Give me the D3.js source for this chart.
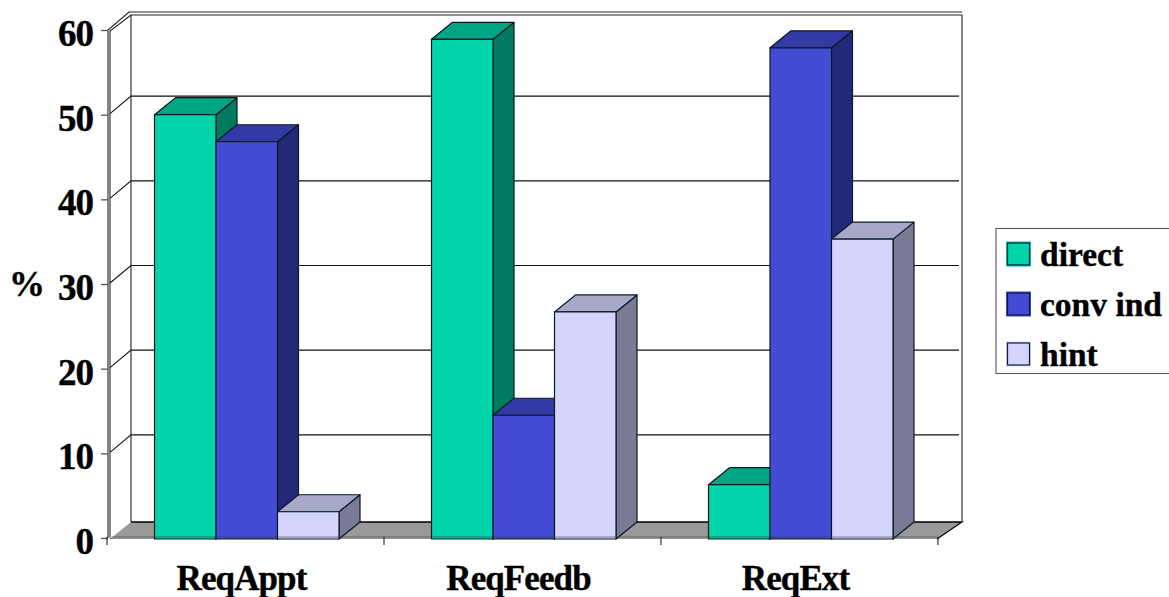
<!DOCTYPE html>
<html>
<head>
<meta charset="utf-8">
<script src="https://cdn.jsdelivr.net/npm/d3@7"></script>
<style>
html, body { margin: 0; padding: 0; background: #fff; }
svg { display: block; }
text { font-family: "Liberation Serif", serif; font-weight: bold; fill: #000; stroke: #000; stroke-width: 0.4; }
</style>
</head>
<body>
<div id="chart"></div>
<script>
var categories = ['ReqAppt', 'ReqFeedb', 'ReqExt'];
var series_names = ['direct', 'conv ind', 'hint'];
var direct_values = [50, 58.9, 6.3];
var conv_values = [46.8, 14.5, 57.9];
var hint_values = [3.1, 26.7, 35.3];
var y_ticks = [0, 10, 20, 30, 40, 50, 60];

var series_values = [direct_values, conv_values, hint_values];
var colors = [
  { front: '#00d4aa', top: '#00a583', side: '#007a60' },
  { front: '#444cd6', top: '#333aa5', side: '#222a78' },
  { front: '#d4d4fc', top: '#a8a8cb', side: '#7a7a96' }
];

var w = 1169, h = 597;
var dx = 21, dy = -17;           // depth of the 3d box

var svg = d3.select('#chart').append('svg')
  .attr('width', w)
  .attr('height', h);

var y = d3.scaleLinear().domain([0, 60]).range([538, 30]);
var x = d3.scaleBand().domain(d3.range(categories.length)).range([107, 938]);
var x_series = d3.scaleBand().domain(d3.range(series_names.length))
  .range([47.5, 232]);

var x_left = 110, x_right = 941;

// floor
svg.append('path')
  .attr('d', d3.line()([[x_left, y(0) + 1], [x_left + dx, y(0) + 1 + dy], [x_right + dx, y(0) + 1 + dy], [x_right - 4, y(0) + 1]]) + 'Z')
  .attr('fill', '#999')
  .attr('stroke', 'none');
svg.append('path')
  .attr('d', d3.line()([[x_left + dx, y(0) + 1 + dy], [x_right + dx, y(0) + 1 + dy], [x_right - 4, y(0) + 1]]))
  .attr('fill', 'none')
  .attr('stroke', '#000')
  .attr('stroke-width', 1.3);

// grid on back wall and left wall
y_ticks.forEach(function(t) {
  if (t == 0 || t == 60) return;
  svg.append('path')
    .attr('d', d3.line()([[x_left, y(t) - 1], [x_left + dx, y(t) + dy - 1.5], [x_right + dx - 3, y(t) + dy - 1.5]]))
    .attr('fill', 'none')
    .attr('stroke', '#111')
    .attr('stroke-width', 1.1);
});

// walls
var wall = svg.append('g').attr('fill', 'none').attr('stroke', '#222').attr('stroke-width', 1.1);
wall.append('path').attr('d', d3.line()([[x_left, y(0) + 1], [x_left, y(60) + 1], [x_left + dx, y(60) - 15], [x_right + dx, y(60) - 15], [x_right + dx, y(0) + 1 + dy]]));
wall.append('path').attr('d', d3.line()([[x_left + dx, y(60) - 15], [x_left + dx, y(0) + 1 + dy]]));
wall.append('path').attr('d', d3.line()([[x_left - 2, y(0) + 1], [x_left - 2, y(60)], [x_left + dx - 2, y(60) - 18], [x_right + dx, y(60) - 18]]));
wall.append('path')
  .attr('d', d3.line()([[x_left - 2, y(0) + 1], [x_left + dx - 2, y(0) + dy - 1]]))
  .attr('stroke', '#fff');

// bars
categories.forEach(function(cat, c) {
  series_names.forEach(function(name, s) {
    var v = series_values[s][c];
    var col = colors[s];
    var x0 = x(c) + x_series(s);
    var x1 = x0 + x_series.bandwidth();
    var yt = y(v);
    var yb = y(0) + 1;
    var g = svg.append('g').attr('stroke', '#0a1a20').attr('stroke-width', 1.2).attr('stroke-linejoin', 'round');
    g.append('path').attr('fill', col.side)
      .attr('d', d3.line()([[x1, yt], [x1 + dx, yt + dy], [x1 + dx, yb + dy], [x1, yb]]) + 'Z');
    g.append('path').attr('fill', col.top)
      .attr('d', d3.line()([[x0, yt], [x0 + dx, yt + dy], [x1 + dx, yt + dy], [x1, yt]]) + 'Z');
    g.append('rect').attr('fill', col.front)
      .attr('x', x0).attr('y', yt)
      .attr('width', x1 - x0).attr('height', yb - yt);
  });
});

// front edge of the floor shows through the bars
svg.append('line')
  .attr('x1', x_left - 3).attr('x2', x_right - 4)
  .attr('y1', y(0) - 1).attr('y2', y(0) - 1)
  .attr('stroke', '#333').attr('stroke-opacity', 0.55).attr('stroke-width', 1.2);

// y axis
var y_axis = svg.append('g')
  .attr('transform', 'translate(108,0)')
  .call(d3.axisLeft(y).tickValues(y_ticks).tickSize(7).tickPadding(8).tickFormat(d3.format('d')));
y_axis.select('.domain').remove();
y_axis.selectAll('line').attr('stroke', '#555').attr('stroke-width', 1.3);
y_axis.selectAll('text')
  .attr('font-size', 37)
  .attr('letter-spacing', -1)
  .attr('fill', '#000')
  .attr('y', 3)
  .attr('dy', '0.34em');

// x axis
var x_axis = svg.append('g')
  .attr('transform', 'translate(0,' + (y(0) + 1) + ')')
  .call(d3.axisBottom(x).tickSize(0).tickPadding(25).tickFormat(function(i) { return categories[i]; }));
x_axis.select('.domain').remove();
x_axis.selectAll('text')
  .attr('font-size', 35)
  .attr('letter-spacing', -0.9)
  .attr('fill', '#000')
  .attr('y', 51)
  .attr('dy', 0)
  .attr('dx', -4);

svg.append('g').selectAll('line')
  .data([0, 1, 2, 3])
  .enter().append('line')
  .attr('x1', function(d) { return d < 3 ? x(d) : x.range()[1]; })
  .attr('x2', function(d) { return d < 3 ? x(d) : x.range()[1]; })
  .attr('y1', y(0) - 1).attr('y2', y(0) + 7)
  .attr('stroke', '#222').attr('stroke-width', 1.1);

// y title
svg.append('text')
  .attr('x', 27).attr('y', 296)
  .attr('text-anchor', 'middle')
  .attr('font-size', 36)
  .text('%');

// legend
var legend = svg.append('g');
legend.append('rect')
  .attr('x', 996).attr('y', 228.5)
  .attr('width', 200).attr('height', 145)
  .attr('fill', '#fff').attr('stroke', '#555').attr('stroke-width', 1.1);

var legend_y = d3.scalePoint().domain(series_names).range([254, 354]);
series_names.forEach(function(name, s) {
  legend.append('rect')
    .attr('x', 1006).attr('y', legend_y(name) - 12.5)
    .attr('width', 25).attr('height', 25)
    .attr('fill', colors[s].front);
  legend.append('rect')
    .attr('x', 1007.5).attr('y', legend_y(name) - 11)
    .attr('width', 22).attr('height', 22)
    .attr('fill', 'none')
    .attr('stroke', '#0a1a40').attr('stroke-width', 1.2);
  legend.append('text')
    .attr('x', 1040).attr('y', legend_y(name) + 12)
    .attr('font-size', 33.5)
    .text(name);
});
</script>
</body>
</html>
